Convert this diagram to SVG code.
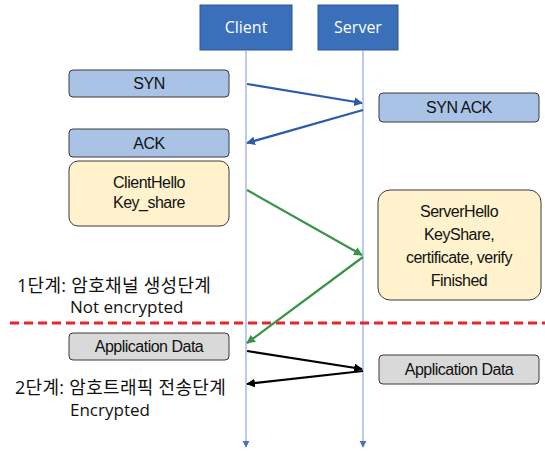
<svg xmlns="http://www.w3.org/2000/svg" width="545" height="451" viewBox="0 0 545 451">
<defs>
<style>
.actor{fill:#3A6FBA;stroke:#2F5597;stroke-width:1}
.actortxt{font-family:"Open Sans","Noto Sans",sans-serif;font-size:16px;fill:#fff;text-anchor:middle}
.life{stroke:#8EA9DB;stroke-width:1.2;fill:none}
.blue{fill:#A9C3E6;stroke:#3A3A3A;stroke-width:1}
.yel{fill:#FFF2CC;stroke:#3A3A3A;stroke-width:1}
.gray{fill:#D9D9D9;stroke:#3A3A3A;stroke-width:1}
.bt{font-family:"Liberation Sans",Arial,sans-serif;font-size:16px;fill:#111;text-anchor:middle;letter-spacing:-0.5px}
.kt{font-family:"Open Sans","Noto Sans CJK KR",sans-serif;font-size:18px;fill:#111;letter-spacing:0.3px}
.et{font-family:"Open Sans","Noto Sans",sans-serif;font-size:17px;fill:#111}
</style>
<marker id="mb" viewBox="0 0 10 10" refX="9" refY="5" markerWidth="4" markerHeight="4" orient="auto"><path d="M0,0L10,5L0,10z" fill="#2E5AAC"/></marker>
<marker id="mg" viewBox="0 0 10 10" refX="9" refY="5" markerWidth="4" markerHeight="4" orient="auto"><path d="M0,0L10,5L0,10z" fill="#3A9448"/></marker>
<marker id="mk" viewBox="0 0 10 10" refX="9" refY="5" markerWidth="4" markerHeight="4" orient="auto"><path d="M0,0L10,5L0,10z" fill="#000"/></marker>
<marker id="ml" viewBox="0 0 10 10" refX="9" refY="5" markerWidth="6" markerHeight="6" orient="auto"><path d="M0,0L10,5L0,10z" fill="#4472C4"/></marker>
</defs>
<rect width="545" height="451" fill="#fff"/>
<g id="client">
<rect class="actor" x="200" y="5" width="92" height="45"/>
<text class="actortxt" x="246" y="33">Client</text>
</g>
<g id="server">
<rect class="actor" x="318" y="5" width="80" height="45"/>
<text class="actortxt" x="358" y="33">Server</text>
</g>
<g id="syn"><rect class="blue" x="69" y="70" width="160" height="27" rx="4"/><text class="bt" x="149" y="89">SYN</text></g>
<g id="synack"><rect class="blue" x="379" y="93" width="160" height="29" rx="4"/><text class="bt" x="459" y="113">SYN ACK</text></g>
<g id="ack"><rect class="blue" x="69" y="129" width="160" height="28" rx="4"/><text class="bt" x="149" y="149">ACK</text></g>
<g id="clienthello"><rect class="yel" x="69" y="161" width="160" height="65" rx="9"/><text class="bt" x="149" y="188">ClientHello</text><text class="bt" x="149" y="208">Key_share</text></g>
<g id="serverhello"><rect class="yel" x="378" y="190" width="163" height="110" rx="12"/><text class="bt" x="459" y="217">ServerHello</text><text class="bt" x="459" y="240">KeyShare,</text><text class="bt" x="459" y="263">certificate, verify</text><text class="bt" x="459" y="286">Finished</text></g>
<g id="appdata1"><rect class="gray" x="69" y="333" width="160" height="27" rx="4"/><text class="bt" x="149" y="352">Application Data</text></g>
<g id="appdata2"><rect class="gray" x="379" y="355" width="160" height="29" rx="4"/><text class="bt" x="459" y="375">Application Data</text></g>
<g id="labels">
<text class="kt" x="17" y="292">1단계: 암호채널 생성단계</text>
<text class="et" x="70" y="313">Not encrypted</text>
<text class="kt" x="15" y="394">2단계: 암호트래픽 전송단계</text>
<text class="et" x="70" y="416">Encrypted</text>
</g>
<g id="connectors">
<line class="life" x1="246" y1="50" x2="246" y2="447" marker-end="url(#ml)"/>
<line class="life" x1="363" y1="50" x2="363" y2="447" marker-end="url(#ml)"/>
<line x1="10" y1="323" x2="545" y2="323" stroke="#E8252A" stroke-width="3" stroke-dasharray="9,5"/>
<line x1="247" y1="84" x2="362" y2="103" stroke="#2E5AAC" stroke-width="2.2" marker-end="url(#mb)"/>
<line x1="363" y1="110" x2="247" y2="143" stroke="#2E5AAC" stroke-width="2.2" marker-end="url(#mb)"/>
<line x1="247" y1="190" x2="362" y2="255" stroke="#3A9448" stroke-width="2.2" marker-end="url(#mg)"/>
<line x1="363" y1="257" x2="247" y2="343" stroke="#3A9448" stroke-width="2.2" marker-end="url(#mg)"/>
<line x1="247" y1="351" x2="362" y2="369" stroke="#000" stroke-width="2.2" marker-end="url(#mk)"/>
<line x1="363" y1="371" x2="247" y2="384" stroke="#000" stroke-width="2.2" marker-end="url(#mk)"/>
</g>
</svg>
